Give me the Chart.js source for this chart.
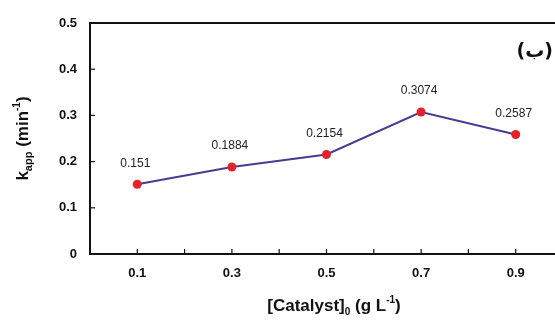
<!DOCTYPE html>
<html><head><meta charset="utf-8">
<script src="https://cdn.jsdelivr.net/npm/chart.js@4"></script>
<style>
html,body{margin:0;padding:0;background:#fff;overflow:hidden;width:555px;height:320px;}
#wrap{position:relative;width:575px;height:320px;}
</style></head>
<body><div id="wrap"><canvas id="c" width="575" height="320"></canvas></div>
<script>
const catalyst = [0.1, 0.3, 0.5, 0.7, 0.9];
const kapp = [0.151, 0.1884, 0.2154, 0.3074, 0.2587];
const kappLabels = ["0.151", "0.1884", "0.2154", "0.3074", "0.2587"];
const yTicks = [0, 0.1, 0.2, 0.3, 0.4, 0.5];
const panelLabel = "(ب)";

const FONT = '"Liberation Sans", Arial, sans-serif';

const decor = {
  id: 'decor',
  afterDraw(chart) {
    const ctx = chart.ctx, a = chart.chartArea;
    const xs = chart.scales.x, ys = chart.scales.y;
    ctx.save();
    ctx.strokeStyle = '#111';
    // top frame line
    ctx.lineWidth = 2;
    ctx.beginPath(); ctx.moveTo(a.left - 1, a.top); ctx.lineTo(a.right + 2, a.top); ctx.stroke();
    // inner ticks
    ctx.lineWidth = 1.2;
    for (let i = 1; i <= 9; i++) {
      const px = xs.getPixelForValue(i / 10);
      ctx.beginPath(); ctx.moveTo(px, a.bottom); ctx.lineTo(px, a.bottom - 5); ctx.stroke();
    }
    for (let i = 1; i < yTicks.length - 1; i++) {
      const py = ys.getPixelForValue(yTicks[i]);
      ctx.beginPath(); ctx.moveTo(a.left, py); ctx.lineTo(a.left + 5, py); ctx.stroke();
    }
    // data labels
    const meta = chart.getDatasetMeta(0);
    ctx.fillStyle = '#222';
    ctx.font = '12px ' + FONT;
    ctx.textAlign = 'center';
    ctx.textBaseline = 'middle';
    meta.data.forEach((pt, i) => {
      ctx.fillText(kappLabels[i], pt.x - 2, pt.y - 21);
    });
    // panel label
    ctx.fillStyle = '#111';
    ctx.textAlign = 'right';
    ctx.direction = 'ltr';
    ctx.font = 'bold 19px "DejaVu Sans", ' + FONT;
    ctx.fillText(panelLabel, 553, 52);
    // y axis title
    ctx.save();
    ctx.translate(28, (a.top + a.bottom) / 2);
    ctx.rotate(-Math.PI / 2);
    ctx.textBaseline = 'alphabetic';
    ctx.textAlign = 'left';
    const parts = [
      ['k', 'bold 17px ' + FONT, 0],
      ['app', 'bold 11px ' + FONT, 4],
      [' (min', 'bold 17px ' + FONT, 0],
      ['-1', 'bold 10px ' + FONT, -8],
      [')', 'bold 17px ' + FONT, 0]
    ];
    let w = 0;
    parts.forEach(p => { ctx.font = p[1]; w += ctx.measureText(p[0]).width; });
    let x = -w / 2;
    parts.forEach(p => { ctx.font = p[1]; ctx.fillText(p[0], x, p[2]); x += ctx.measureText(p[0]).width; });
    ctx.restore();
    // x axis title
    const xparts = [
      ['[Catalyst]', 'bold 17px ' + FONT, 0],
      ['0', 'bold 10px ' + FONT, 4],
      [' (g L', 'bold 17px ' + FONT, 0],
      ['-1', 'bold 10px ' + FONT, -8],
      [')', 'bold 17px ' + FONT, 0]
    ];
    ctx.textAlign = 'left';
    ctx.textBaseline = 'alphabetic';
    w = 0;
    xparts.forEach(p => { ctx.font = p[1]; w += ctx.measureText(p[0]).width; });
    x = 334 - w / 2;
    xparts.forEach(p => { ctx.font = p[1]; ctx.fillText(p[0], x, 311 + p[2]); x += ctx.measureText(p[0]).width; });
    ctx.restore();
  }
};

new Chart(document.getElementById('c'), {
  type: 'scatter',
  data: {
    datasets: [{
      data: catalyst.map((c, i) => ({ x: c, y: kapp[i] })),
      showLine: true,
      borderColor: '#4a3a94',
      borderWidth: 2,
      pointBackgroundColor: '#e3222c',
      pointBorderColor: '#e3222c',
      pointRadius: 4.5,
      pointBorderWidth: 0
    }]
  },
  options: {
    responsive: false,
    animation: false,
    events: [],
    layout: { padding: { top: 23, right: 10, left: 0, bottom: 0 } },
    plugins: { legend: { display: false }, tooltip: { enabled: false } },
    scales: {
      x: {
        type: 'linear', min: 0, max: 1.0,
        grid: { display: false, drawTicks: false },
        border: { display: true, color: '#111', width: 2 },
        ticks: {
          stepSize: 0.1, padding: 12, color: '#111',
          font: { family: FONT, size: 13, weight: 'bold' },
          callback: v => { const k = Math.round(v * 10); return (k % 2 === 1) ? (k / 10).toFixed(1) : ''; }
        },
        afterFit: s => { s.height = 66; }
      },
      y: {
        min: 0, max: 0.5,
        grid: { display: false, drawTicks: false },
        border: { display: true, color: '#111', width: 2 },
        ticks: {
          stepSize: 0.1, padding: 13, color: '#111',
          font: { family: FONT, size: 13, weight: 'bold' },
          callback: v => { const r = Math.round(v * 10) / 10; return r === 0 ? '0' : r.toFixed(1); }
        },
        afterFit: s => { s.width = 90; }
      }
    }
  },
  plugins: [decor]
});
</script></body></html>
